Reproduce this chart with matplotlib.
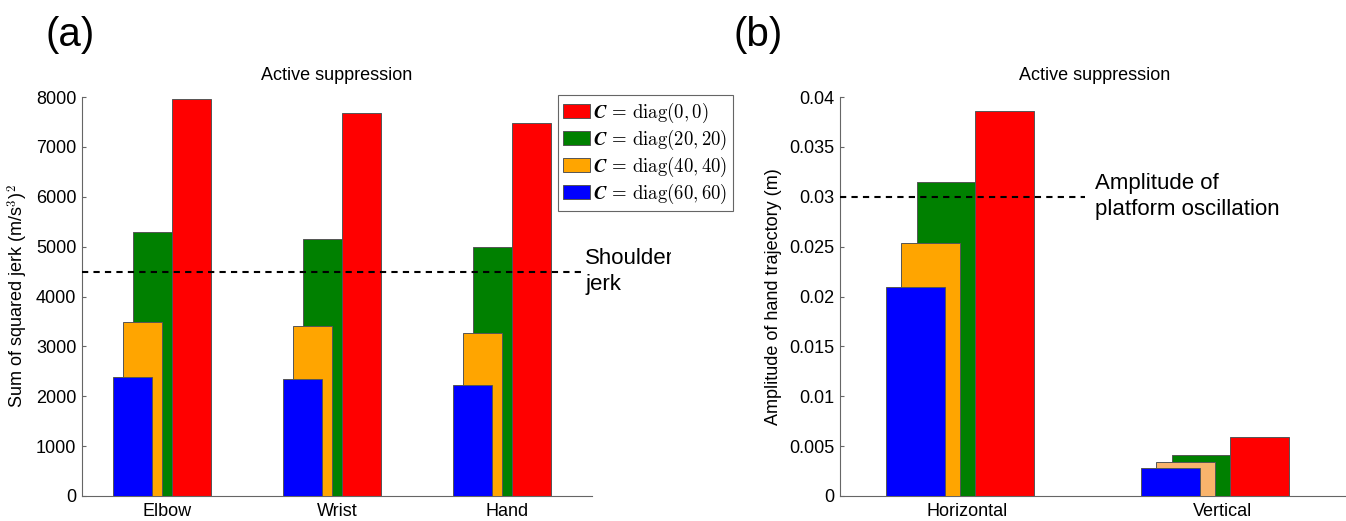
import matplotlib
matplotlib.use('Agg')
import matplotlib.pyplot as plt
import numpy as np
from matplotlib.patches import Patch
from matplotlib.transforms import Bbox, TransformedBbox
from matplotlib.ticker import FuncFormatter

plt.rcParams['font.family'] = ['Liberation Sans', 'DejaVu Sans']
plt.rcParams['mathtext.fontset'] = 'cm'

# (a) sum of squared jerk per joint
joints = ['Elbow', 'Wrist', 'Hand']
jerk_c0 = [7950, 7670, 7480]
jerk_c20 = [5300, 5150, 4990]
jerk_c40 = [3480, 3400, 3270]
jerk_c60 = [2380, 2340, 2230]
shoulder_jerk = 4500

# (b) amplitude of hand trajectory
directions = ['Horizontal', 'Vertical']
amp_c0 = [0.0386, 0.0059]
amp_c20 = [0.0315, 0.0041]
amp_c40 = [0.0254, 0.0034]
amp_c60 = [0.0210, 0.0028]
platform_amp = 0.03

labels = [r'$\mathbfit{C}\,=\,\mathrm{diag}(0,0)$',
          r'$\mathbfit{C}\,=\,\mathrm{diag}(20,20)$',
          r'$\mathbfit{C}\,=\,\mathrm{diag}(40,40)$',
          r'$\mathbfit{C}\,=\,\mathrm{diag}(60,60)$']
colors = ['#ff0000', '#008000', '#ffa500', '#0000ff']

W, H = 1346, 521
fig = plt.figure(figsize=(W / 100, H / 100), dpi=100)
ax1 = fig.add_axes([82 / W, 1 - 496 / H, 510 / W, 399 / H])
ax2 = fig.add_axes([840 / W, 1 - 496 / H, 510 / W, 399 / H])

bw = 0.23
edge = dict(edgecolor='#555555', linewidth=0.7, align='edge')


def draw_group(ax, n, c0, c20, c40, c60, orange_colors):
    x = np.arange(1, n + 1)
    # back to front: red, green, orange, blue
    ax.bar(x + 0.03, c0, bw, color=colors[0], zorder=2, **edge)
    ax.bar(x - 0.20, c20, bw, color=colors[1], zorder=3, **edge)
    ax.bar(x - 0.26, c40, bw, color=orange_colors, zorder=4, **edge)
    ax.bar(x - 0.32, c60, bw, color=colors[3], zorder=5, **edge)
    ax.set_xlim(0.5, n + 0.5)
    ax.set_xticks(x)


def style(ax):
    for s in ['top', 'right']:
        ax.spines[s].set_visible(False)
    for s in ['left', 'bottom']:
        ax.spines[s].set_color('#666666')
        ax.spines[s].set_linewidth(0.8)
    ax.tick_params(direction='in', length=3, color='#666666', labelsize=13, pad=4)
    ax.tick_params(axis='x', length=0, pad=5)
    ax.set_title('Active suppression', fontsize=13, pad=12)


# panel (a)
draw_group(ax1, 3, jerk_c0, jerk_c20, jerk_c40, jerk_c60, colors[2])
ax1.set_xticklabels(joints)
ax1.set_ylim(0, 8000)
ax1.set_yticks(np.arange(0, 8001, 1000))
ax1.set_ylabel(r'Sum of squared jerk (m/s$^3$)$^2$', fontsize=13, labelpad=4)
ax1.hlines(shoulder_jerk, 0.5, 3.45, colors='black', linestyles=(0, (3, 2.5)),
           linewidth=1.5, zorder=6, clip_on=False)
t = ax1.text(3.46, shoulder_jerk, 'Shoulder\njerk', fontsize=16, ha='left',
             va='center', linespacing=1.3)
t.set_clip_box(TransformedBbox(Bbox([[0, 0], [671 / W, 1]]), fig.transFigure))
t.set_clip_on(True)
style(ax1)

# panel (b)
draw_group(ax2, 2, amp_c0, amp_c20, amp_c40, amp_c60, [colors[2], '#f9b46c'])
ax2.set_xticklabels(directions)
ax2.set_ylim(0, 0.04)
ax2.set_yticks(np.arange(0, 0.0401, 0.005))
ax2.yaxis.set_major_formatter(FuncFormatter(lambda v, p: f'{v:g}'))
ax2.set_ylabel('Amplitude of hand trajectory (m)', fontsize=13, labelpad=5)
ax2.hlines(platform_amp, 0.5, 1.46, colors='black', linestyles=(0, (3, 2.5)),
           linewidth=1.5, zorder=6)
ax2.text(1.5, platform_amp, 'Amplitude of\nplatform oscillation', fontsize=16,
         ha='left', va='center', linespacing=1.3)
style(ax2)

handles = [Patch(facecolor=c, edgecolor='#555555', linewidth=0.7) for c in colors]
leg = fig.legend(handles, labels, loc='upper right', bbox_to_anchor=(733 / W, 1 - 95 / H),
                 bbox_transform=fig.transFigure, fontsize=13.5, frameon=True,
                 fancybox=False, edgecolor='#666666', framealpha=1,
                 handlelength=1.45, handleheight=0.8, handletextpad=0.15,
                 labelspacing=0.15, borderpad=0.3, borderaxespad=0)
leg.get_frame().set_linewidth(0.8)

fig.text(45 / W, 1 - 35 / H, '(a)', fontsize=29, ha='left', va='center')
fig.text(734 / W, 1 - 35 / H, '(b)', fontsize=29, ha='left', va='center')

fig.savefig('out.png', dpi=100)
